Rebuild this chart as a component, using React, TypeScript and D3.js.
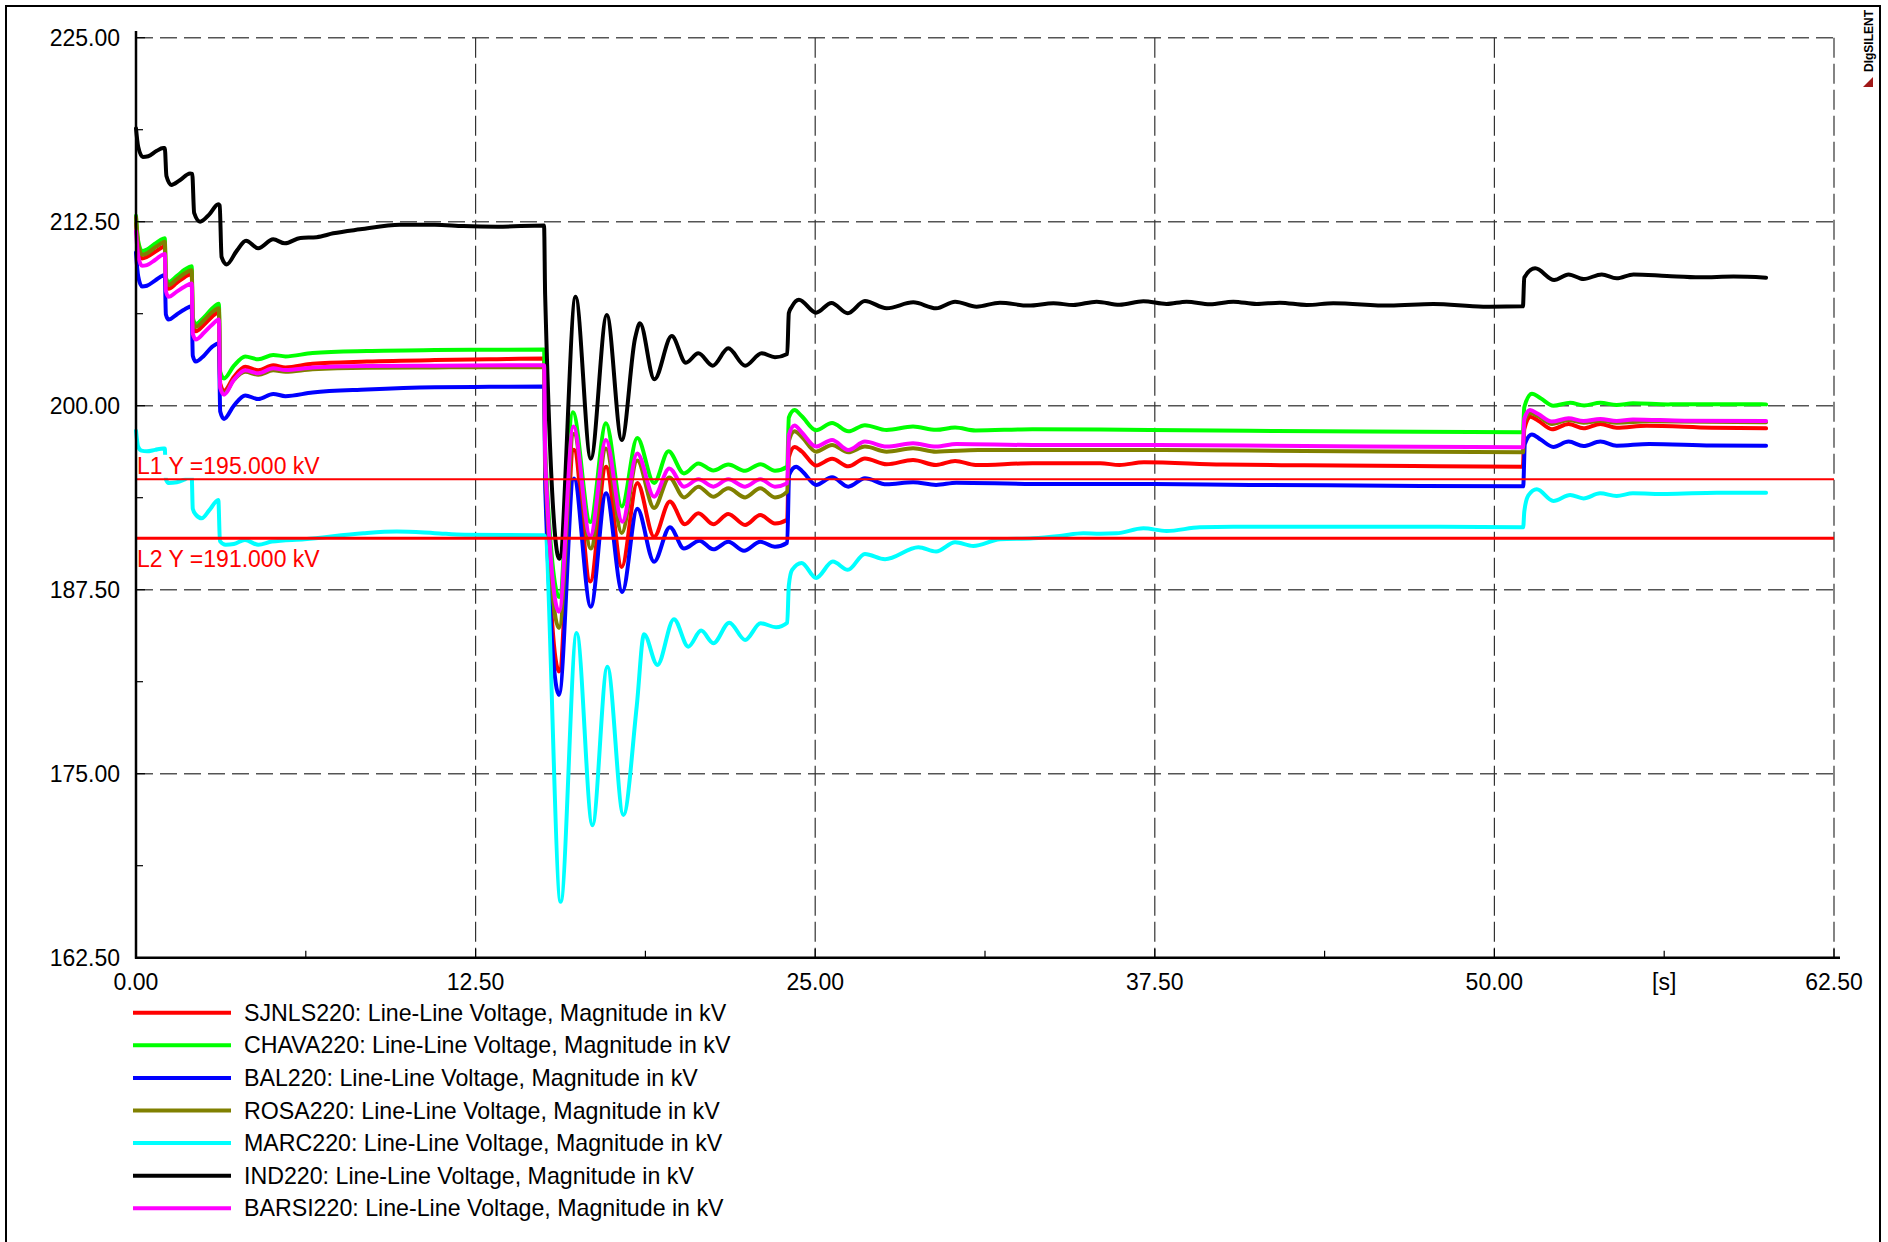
import React from 'react';
import * as d3 from 'd3';

type Pt = [number, number];

// ---- axis data ----
const yTicks = [162.5, 175, 187.5, 200, 212.5, 225];
const yMinor = [168.75, 181.25, 193.75, 206.25, 218.75];
const xTicks = [0, 12.5, 25, 37.5, 50, 62.5];
const xMinor = [6.25, 18.75, 31.25, 43.75, 56.25];
const xUnit = '[s]';
const xUnitAt = 56.25;

// ---- limit lines ----
const limitNames = ['L1', 'L2'];
const limitValues = [195, 191];

// ---- series (time s, voltage kV) ----
const sjnls220: Pt[] = [
  [0, 212.4], [0.08, 210.8], [0.22, 210.0], [0.4, 210.1], [0.7, 210.45], [1.0, 210.8], [1.06, 210.85],
  [1.1, 208.3], [1.2, 207.95], [1.5, 208.35], [1.8, 208.75], [2.05, 208.95],
  [2.09, 205.5], [2.2, 205.05], [2.5, 205.5], [2.8, 206.05], [3.05, 206.35],
  [3.1, 201.5], [3.24, 201.0], [3.6, 201.95], [4.02, 202.65], [4.5, 202.4], [5.05, 202.75], [5.5, 202.6],
  [6.5, 202.85], [8.5, 203.0], [11, 203.1], [13, 203.15], [15.02, 203.2],
  [15.07, 195.0], [15.57, 181.95], [16.12, 197.0], [16.72, 188.05], [17.3, 195.85], [17.88, 189.05],
  [18.45, 194.75], [19.07, 191.1], [19.65, 193.5], [20.2, 191.95], [20.7, 192.7], [21.25, 191.95],
  [21.8, 192.65], [22.42, 191.9], [22.98, 192.57], [23.52, 192.0], [23.97, 192.25],
  [24.03, 196.5], [24.24, 197.2], [24.5, 196.9], [25.03, 195.94], [25.62, 196.4], [26.22, 195.88],
  [26.83, 196.42], [27.63, 196.02], [28.6, 196.31], [29.45, 195.97], [30.15, 196.25], [30.9, 195.97],
  [33, 196.09], [35.5, 196.09], [36.2, 195.97], [37.1, 196.16], [40, 196.0], [43, 195.95], [47, 195.9], [51.05, 195.86],
  [51.1, 198.4], [51.32, 199.25], [51.6, 199.0], [52.12, 198.4], [52.73, 198.76], [53.28, 198.46],
  [53.9, 198.76], [54.5, 198.51], [55.6, 198.64], [58, 198.5], [60, 198.46],
];

const chava220: Pt[] = [
  [0, 212.9], [0.08, 211.2], [0.22, 210.5], [0.4, 210.6], [0.7, 211.0], [1.0, 211.35], [1.06, 211.37],
  [1.1, 208.7], [1.2, 208.4], [1.5, 208.8], [1.8, 209.25], [2.05, 209.48],
  [2.09, 206.0], [2.2, 205.55], [2.5, 206.0], [2.8, 206.6], [3.05, 206.93],
  [3.1, 202.3], [3.24, 201.85], [3.6, 202.7], [4.02, 203.35], [4.5, 203.15], [5.05, 203.45], [5.5, 203.35],
  [6.5, 203.58], [8.5, 203.72], [11, 203.78], [13, 203.8], [15.02, 203.82],
  [15.07, 196.5], [15.58, 187.0], [16.08, 199.55], [16.72, 192.1], [17.3, 198.8], [17.88, 193.15],
  [18.45, 197.8], [19.07, 194.75], [19.6, 196.9], [20.17, 195.4], [20.7, 196.08], [21.25, 195.6],
  [21.8, 196.0], [22.42, 195.58], [22.98, 196.03], [23.52, 195.58], [23.97, 195.85],
  [24.03, 199.2], [24.24, 199.7], [24.5, 199.3], [25.03, 198.33], [25.62, 198.83], [26.22, 198.26],
  [26.83, 198.68], [27.63, 198.35], [28.6, 198.58], [29.45, 198.36], [30.15, 198.52], [30.9, 198.32],
  [33, 198.4], [37.3, 198.35], [41, 198.3], [45.3, 198.24], [51.05, 198.2],
  [51.1, 199.9], [51.38, 200.82], [51.7, 200.5], [52.17, 200.0], [52.79, 200.2], [53.3, 200.02],
  [53.9, 200.2], [54.5, 200.05], [55.1, 200.16], [56.4, 200.09], [58.2, 200.1], [60, 200.09],
];

const bal220: Pt[] = [
  [0, 210.4], [0.08, 208.8], [0.22, 208.1], [0.4, 208.15], [0.7, 208.5], [1.0, 208.85], [1.06, 208.88],
  [1.1, 206.2], [1.2, 205.85], [1.5, 206.2], [1.8, 206.55], [2.05, 206.75],
  [2.09, 203.4], [2.2, 203.0], [2.5, 203.4], [2.8, 204.0], [3.05, 204.25],
  [3.1, 199.6], [3.24, 199.1], [3.6, 200.0], [4.02, 200.7], [4.5, 200.45], [5.05, 200.8], [5.5, 200.65],
  [6.5, 200.9], [8.5, 201.1], [11, 201.25], [13, 201.28], [15.02, 201.3],
  [15.07, 194.0], [15.57, 180.35], [16.12, 195.05], [16.74, 186.35], [17.3, 194.05], [17.9, 187.35],
  [18.45, 193.0], [19.07, 189.4], [19.65, 191.75], [20.17, 190.3], [20.74, 190.83], [21.25, 190.24],
  [21.8, 190.76], [22.38, 190.15], [22.98, 190.76], [23.52, 190.42], [23.97, 190.69],
  [24.04, 195.3], [24.3, 195.86], [24.55, 195.5], [25.03, 194.62], [25.62, 195.14], [26.22, 194.5],
  [26.83, 195.07], [27.63, 194.66], [28.6, 194.8], [29.45, 194.62], [30.2, 194.77],
  [33, 194.68], [37.3, 194.68], [41, 194.62], [45, 194.58], [51.06, 194.52],
  [51.12, 197.4], [51.38, 198.05], [51.7, 197.7], [52.17, 197.2], [52.73, 197.56], [53.28, 197.26],
  [53.9, 197.56], [54.5, 197.28], [55.7, 197.4], [58, 197.3], [60, 197.28],
];

const rosa220: Pt[] = [
  [0, 212.8], [0.08, 211.0], [0.22, 210.25], [0.4, 210.35], [0.7, 210.75], [1.0, 211.1], [1.06, 211.14],
  [1.1, 208.6], [1.2, 208.2], [1.5, 208.6], [1.8, 209.0], [2.05, 209.2],
  [2.09, 205.8], [2.2, 205.35], [2.5, 205.8], [2.8, 206.35], [3.05, 206.62],
  [3.1, 201.3], [3.24, 200.85], [3.6, 201.75], [4.02, 202.3], [4.5, 202.1], [5.05, 202.4], [5.5, 202.3],
  [6.5, 202.48], [8.5, 202.58], [11, 202.6], [15.02, 202.62],
  [15.07, 195.5], [15.57, 184.9], [16.12, 198.1], [16.74, 190.3], [17.3, 197.1], [17.88, 191.35],
  [18.45, 196.27], [19.07, 193.05], [19.63, 195.13], [20.17, 193.77], [20.7, 194.5], [21.25, 193.82],
  [21.8, 194.39], [22.42, 193.77], [22.98, 194.39], [23.52, 193.77], [23.97, 194.16],
  [24.03, 197.6], [24.24, 198.27], [24.5, 197.9], [25.03, 196.88], [25.62, 197.33], [26.22, 196.83],
  [26.83, 197.22], [27.63, 196.88], [28.6, 197.11], [29.45, 196.88], [31, 196.99],
  [37.3, 196.99], [43, 196.93], [51.05, 196.83],
  [51.1, 198.9], [51.32, 199.5], [51.6, 199.3], [52.12, 198.76], [52.73, 199.03], [53.28, 198.85],
  [53.9, 198.98], [54.5, 198.85], [55.7, 198.94], [60, 198.87],
];

const marc220: Pt[] = [
  [0, 198.3], [0.08, 197.2], [0.2, 196.95], [0.4, 196.9], [0.7, 197.0], [1.0, 197.1], [1.06, 197.1],
  [1.1, 195.0], [1.2, 194.75], [1.5, 194.8], [1.8, 195.0], [2.05, 195.2],
  [2.09, 193.0], [2.2, 192.6], [2.42, 192.35], [2.7, 192.9], [3.03, 193.6],
  [3.09, 190.8], [3.3, 190.55], [3.6, 190.6], [4.01, 190.88], [4.5, 190.55], [5.0, 190.77], [6.2, 190.93],
  [8.37, 191.34], [9.6, 191.45], [11, 191.34], [12.1, 191.23], [15.03, 191.2],
  [15.63, 166.3], [16.22, 184.55], [16.8, 171.5], [17.35, 182.27], [17.94, 172.2], [18.43, 179.56],
  [18.7, 184.47], [19.19, 182.39], [19.8, 185.5], [20.33, 183.63], [20.8, 184.72], [21.25, 183.86],
  [21.84, 185.26], [22.42, 184.09], [22.99, 185.22], [23.56, 184.95], [23.97, 185.26],
  [24.03, 187.8], [24.15, 188.85], [24.5, 189.32], [25.03, 188.3], [25.65, 189.41], [26.2, 188.85],
  [26.83, 189.93], [27.57, 189.57], [28.8, 190.38], [29.45, 190.09], [30.15, 190.72], [30.82, 190.47],
  [31.8, 190.92], [33.03, 190.99], [34.01, 191.15], [34.87, 191.33], [35.48, 191.3], [36.09, 191.33],
  [37.08, 191.67], [37.93, 191.49], [39.16, 191.74], [40.39, 191.78], [44, 191.78], [48, 191.78], [51.06, 191.74],
  [51.1, 192.8], [51.25, 193.9], [51.56, 194.32], [52.17, 193.53], [52.79, 193.93], [53.28, 193.7],
  [53.89, 194.05], [54.5, 193.87], [55.1, 194.05], [56.35, 194.0], [58.19, 194.09], [60, 194.09],
];

const ind220: Pt[] = [
  [0, 218.84], [0.08, 217.6], [0.25, 216.9], [0.45, 216.95], [0.75, 217.3], [1.0, 217.5], [1.06, 217.5],
  [1.12, 215.6], [1.3, 215.0], [1.6, 215.3], [1.99, 215.78], [2.07, 215.75],
  [2.14, 213.1], [2.36, 212.5], [2.7, 213.0], [3.03, 213.68], [3.08, 213.6],
  [3.15, 210.1], [3.34, 209.6], [3.7, 210.5], [4.05, 211.2], [4.5, 210.69], [5.05, 211.3], [5.48, 211.03],
  [6.05, 211.4], [6.65, 211.45], [7.26, 211.71], [8.25, 211.98], [9.72, 212.3], [11, 212.3],
  [12.05, 212.2], [13.3, 212.16], [15.02, 212.25],
  [15.06, 207.5], [15.58, 189.6], [16.18, 207.4], [16.74, 196.4], [17.33, 206.16], [17.88, 197.67],
  [18.37, 204.58], [18.55, 205.6], [19.08, 201.79], [19.72, 204.73], [20.24, 202.92], [20.7, 203.56],
  [21.23, 202.72], [21.8, 203.9], [22.42, 202.72], [23.03, 203.56], [23.52, 203.29], [23.97, 203.51],
  [24.03, 206.3], [24.13, 206.7], [24.4, 207.2], [25.03, 206.32], [25.6, 206.98], [26.2, 206.28],
  [26.83, 207.11], [27.63, 206.62], [28.61, 207.02], [29.45, 206.62], [30.15, 207.07], [30.94, 206.73],
  [31.8, 207.0], [32.85, 206.8], [33.77, 206.96], [34.5, 206.84], [35.36, 207.07], [36.2, 206.86],
  [37.08, 207.1], [37.93, 206.91], [38.67, 207.07], [39.53, 206.89], [40.39, 207.07], [41.25, 206.91],
  [42.1, 207.0], [43.09, 206.84], [44.07, 206.96], [46.15, 206.8], [47.75, 206.91], [49.59, 206.73], [51.05, 206.75],
  [51.1, 208.7], [51.5, 209.33], [52.2, 208.54], [52.73, 208.92], [53.28, 208.6], [53.95, 208.92],
  [54.5, 208.65], [55.12, 208.92], [56.35, 208.81], [57.57, 208.72], [58.8, 208.77], [60, 208.7],
];

const barsi220: Pt[] = [
  [0, 211.85], [0.08, 210.2], [0.22, 209.5], [0.4, 209.55], [0.7, 209.9], [1.0, 210.28], [1.06, 210.3],
  [1.1, 207.8], [1.2, 207.4], [1.5, 207.75], [1.8, 208.1], [2.05, 208.3],
  [2.09, 204.9], [2.2, 204.5], [2.5, 204.95], [2.8, 205.5], [3.05, 205.85],
  [3.1, 201.2], [3.24, 200.75], [3.6, 201.75], [4.02, 202.4], [4.5, 202.2], [5.05, 202.55], [5.5, 202.42],
  [6.5, 202.6], [8.5, 202.7], [11, 202.72], [15.02, 202.75],
  [15.07, 196.0], [15.57, 186.0], [16.1, 198.58], [16.72, 191.15], [17.3, 197.67], [17.9, 192.12],
  [18.45, 196.76], [19.07, 193.82], [19.63, 195.74], [20.17, 194.5], [20.7, 195.0], [21.25, 194.5],
  [21.8, 195.0], [22.42, 194.5], [22.98, 195.0], [23.52, 194.5], [23.97, 194.73],
  [24.03, 198.0], [24.24, 198.65], [24.5, 198.2], [25.03, 197.22], [25.62, 197.67], [26.22, 196.99],
  [26.83, 197.56], [27.63, 197.22], [28.6, 197.45], [29.45, 197.22], [30.2, 197.4],
  [33, 197.33], [37.3, 197.33], [43, 197.26], [51.05, 197.17],
  [51.1, 199.1], [51.31, 199.71], [51.6, 199.45], [52.11, 198.92], [52.73, 199.14], [53.28, 198.96],
  [53.9, 199.1], [54.5, 198.96], [55.1, 199.07], [57, 198.98], [60, 198.96],
];

const seriesNames = [
  'SJNLS220: Line-Line Voltage, Magnitude in kV',
  'CHAVA220: Line-Line Voltage, Magnitude in kV',
  'BAL220: Line-Line Voltage, Magnitude in kV',
  'ROSA220: Line-Line Voltage, Magnitude in kV',
  'MARC220: Line-Line Voltage, Magnitude in kV',
  'IND220: Line-Line Voltage, Magnitude in kV',
  'BARSI220: Line-Line Voltage, Magnitude in kV',
];
const seriesColors = ['#ff0000', '#00ff00', '#0000ff', '#808000', '#00ffff', '#000000', '#ff00ff'];
const seriesData = [sjnls220, chava220, bal220, rosa220, marc220, ind220, barsi220];

const W = 1888;
const H = 1242;
const FONT = '"Liberation Sans", Arial, sans-serif';

export default function App() {
  const left = 136;
  const right = 1834;
  const top = 37.7;
  const bottom = 957.7;
  const x = d3.scaleLinear().domain([0, 62.5]).range([left, right]);
  const y = d3.scaleLinear().domain([162.5, 225]).range([bottom, top]);
  const line = d3
    .line<Pt>()
    .x((d) => x(d[0]))
    .y((d) => y(d[1]))
    .curve(d3.curveMonotoneX);

  const fmt = d3.format('.2f');

  return (
    <svg
      width={W}
      height={H}
      style={{ position: 'absolute', left: 0, top: 0, background: '#fff' }}
      fontFamily={FONT}
    >
      <rect x={0} y={0} width={W} height={H} fill="#fff" />
      {/* outer frame */}
      <rect x={6} y={6} width={1874} height={1240} fill="none" stroke="#000" strokeWidth={2} />

      {/* horizontal grid */}
      {yTicks
        .filter((v) => v !== 162.5)
        .map((v) => (
          <line
            key={'hg' + v}
            x1={left}
            x2={right}
            y1={y(v)}
            y2={y(v)}
            stroke="#555"
            strokeWidth={1.5}
            strokeDasharray="17,7"
          />
        ))}
      {/* vertical grid */}
      {xTicks
        .filter((v) => v !== 0)
        .map((v) => (
          <line
            key={'vg' + v}
            x1={x(v)}
            x2={x(v)}
            y1={top}
            y2={bottom}
            stroke="#333"
            strokeWidth={1.2}
            strokeDasharray="20,6"
          />
        ))}

      {/* series */}
      {seriesData.map((d, i) => (
        <path
          key={'s' + i}
          d={line(d) || ''}
          fill="none"
          stroke={seriesColors[i]}
          strokeWidth={4}
          strokeLinejoin="round"
          strokeLinecap="round"
        />
      ))}

      {/* limit lines */}
      {limitValues.map((v, i) => (
        <line
          key={'lim' + i}
          x1={left}
          x2={right}
          y1={y(v)}
          y2={y(v)}
          stroke="#ff0000"
          strokeWidth={i === 0 ? 2 : 3}
        />
      ))}
      {limitValues.map((v, i) => {
        const ty = i === 0 ? y(v) - 5.5 : y(v) + 28.5;
        return (
          <g key={'limt' + i}>
            <rect x={left} y={ty - 19} width={186} height={23} fill="#fff" />
            <text x={left + 1} y={ty} fontSize={23} fill="#ff0000">
              {`${limitNames[i]} Y =${v.toFixed(3)} kV`}
            </text>
          </g>
        );
      })}

      {/* axes */}
      <line x1={left} x2={left} y1={31} y2={bottom + 1} stroke="#000" strokeWidth={2.5} />
      <line x1={left - 1} x2={1840} y1={bottom} y2={bottom} stroke="#000" strokeWidth={2.5} />
      {yMinor.map((v) => (
        <line key={'ym' + v} x1={left} x2={left + 7} y1={y(v)} y2={y(v)} stroke="#000" strokeWidth={1.2} />
      ))}
      {yTicks.map((v) => (
        <line key={'yM' + v} x1={left} x2={left + 9} y1={y(v)} y2={y(v)} stroke="#000" strokeWidth={1.2} />
      ))}
      {xMinor.map((v) => (
        <line key={'xm' + v} x1={x(v)} x2={x(v)} y1={bottom} y2={bottom - 7} stroke="#000" strokeWidth={1.2} />
      ))}
      {xTicks.map((v) => (
        <line key={'xM' + v} x1={x(v)} x2={x(v)} y1={bottom} y2={bottom - 9} stroke="#000" strokeWidth={1.2} />
      ))}

      {/* tick labels */}
      {yTicks.map((v) => (
        <text key={'yl' + v} x={120} y={y(v) + 8} fontSize={23} textAnchor="end" fill="#000">
          {fmt(v)}
        </text>
      ))}
      {xTicks.map((v) => (
        <text key={'xl' + v} x={x(v)} y={990} fontSize={23} textAnchor="middle" fill="#000">
          {fmt(v)}
        </text>
      ))}
      <text x={x(xUnitAt)} y={990} fontSize={23} textAnchor="middle" fill="#000">
        {xUnit}
      </text>

      {/* legend */}
      {seriesNames.map((n, i) => {
        const ly = 1012.7 + i * 32.6;
        return (
          <g key={'lg' + i}>
            <line x1={133} x2={231} y1={ly} y2={ly} stroke={seriesColors[i]} strokeWidth={4} />
            <text x={244} y={ly + 8} fontSize={23.2} fill="#000">
              {n}
            </text>
          </g>
        );
      })}

      {/* DIgSILENT mark */}
      <text
        transform="translate(1873,72) rotate(-90)"
        fontSize={12}
        fontWeight="bold"
        fill="#000"
      >
        DIgSILENT
      </text>
      <polygon points="1873,77 1873,87 1863,87" fill="#a01818" />
    </svg>
  );
}
